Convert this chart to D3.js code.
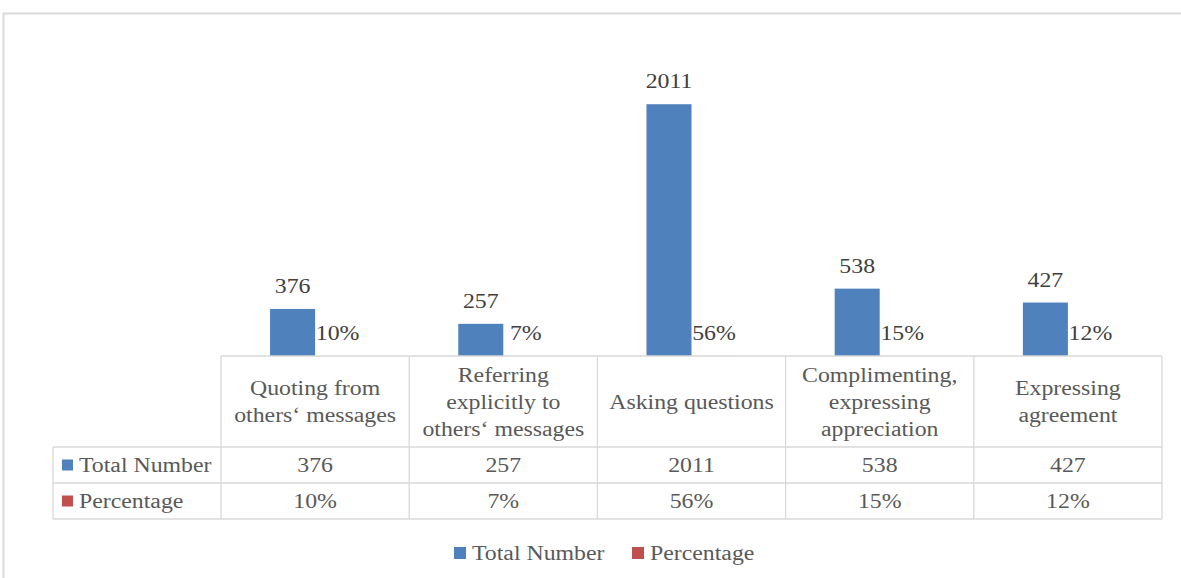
<!DOCTYPE html>
<html>
<head>
<meta charset="utf-8">
<script src="https://cdn.jsdelivr.net/npm/d3@7"></script>
<style>
  body { margin: 0; background: #fff; }
  text { font-family: "Liberation Serif", "Times New Roman", serif; }
</style>
</head>
<body>
<script>
// chart values
var categories = [
    ["Quoting from", "others\u2018 messages"],
    ["Referring", "explicitly  to", "others\u2018 messages"],
    ["Asking questions"],
    ["Complimenting,", "expressing", "appreciation"],
    ["Expressing", "agreement"]
];
var seriesNames = ["Total Number", "Percentage"];
var seriesColors = ["#4f81bd", "#c0504d"];
var totalNumber = [376, 257, 2011, 538, 427];
var percentage = [0.10, 0.07, 0.56, 0.15, 0.12];
var percentLabels = ["10%", "7%", "56%", "15%", "12%"];

var W = 1181, H = 578;
var plot = { left: 221, right: 1162, top: 43, bottom: 356 };
var rowLines = [356, 447, 483, 519];
var tableLeft = 53;
var textColor = "#595959";
var fontSize = 20;
var stretch = 1.19; // the screenshot text is wider than it is tall

var svg = d3.select("body").append("svg")
    .attr("width", W)
    .attr("height", H);

// text helper: places a stretched label at (x, y), vertically centred
function label(px, py, s, anchor, color) {
    return svg.append("text")
        .attr("transform", "translate(" + px + "," + py + ") scale(" + stretch + ",1)")
        .attr("dy", "0.35em")
        .attr("text-anchor", anchor || "start")
        .attr("font-size", fontSize)
        .attr("fill", color || textColor)
        .text(s);
}

// outer chart frame (cut off at right and bottom like the screenshot)
svg.append("rect")
    .attr("x", 3.5).attr("y", 13.5)
    .attr("width", 1250).attr("height", 650)
    .attr("fill", "#fff")
    .attr("stroke", "#d9d9d9")
    .attr("stroke-width", 2);

var x0 = d3.scaleBand()
    .domain(d3.range(categories.length))
    .range([plot.left, plot.right])
    .padding(0);

var x1 = d3.scaleBand()
    .domain(seriesNames)
    .range([0, x0.bandwidth()])
    .paddingInner(0)
    .paddingOuter(1.09);

var y = d3.scaleLinear()
    .domain([0, 2500])
    .range([plot.bottom, plot.top]);

var data = categories.map(function(c, i) {
    return [
        { series: seriesNames[0], value: totalNumber[i], label: String(totalNumber[i]) },
        { series: seriesNames[1], value: percentage[i], label: percentLabels[i] }
    ];
});

data.forEach(function(pair, i) {
    pair.forEach(function(d, j) {
        var bx = x0(i) + x1(d.series);
        svg.append("rect")
            .attr("x", bx)
            .attr("width", x1.bandwidth())
            .attr("y", y(d.value))
            .attr("height", y(0) - y(d.value))
            .attr("fill", seriesColors[j]);
        label(bx + x1.bandwidth() / 2, y(d.value) - 23, d.label, "middle", "#404040");
    });
});

// data table grid
var grid = svg.append("g")
    .attr("stroke", "#d9d9d9")
    .attr("stroke-width", 1.3)
    .attr("fill", "none");

rowLines.forEach(function(ry, k) {
    grid.append("line")
        .attr("x1", k === 0 ? plot.left : tableLeft)
        .attr("x2", plot.right)
        .attr("y1", ry).attr("y2", ry);
});

var colEdges = d3.range(categories.length).map(function(i) { return x0(i); }).concat([plot.right]);
colEdges.forEach(function(cx) {
    grid.append("line")
        .attr("x1", cx).attr("x2", cx)
        .attr("y1", rowLines[0]).attr("y2", rowLines[3]);
});
grid.append("line")
    .attr("x1", tableLeft).attr("x2", tableLeft)
    .attr("y1", rowLines[1]).attr("y2", rowLines[3]);

// category header text
var lineGap = 27;
var headerMid = (rowLines[0] + rowLines[1]) / 2;
categories.forEach(function(lines, i) {
    lines.forEach(function(s, k) {
        label(x0(i) + x0.bandwidth() / 2, headerMid + (k - (lines.length - 1) / 2) * lineGap, s, "middle");
    });
});

// table rows
var rows = [totalNumber.map(String), percentLabels];
rows.forEach(function(vals, r) {
    var cy = (rowLines[r + 1] + rowLines[r + 2]) / 2;
    svg.append("rect")
        .attr("x", 62).attr("y", cy - 5.5)
        .attr("width", 11).attr("height", 11)
        .attr("fill", seriesColors[r]);
    label(79, cy, seriesNames[r]);
    vals.forEach(function(v, i) {
        label(x0(i) + x0.bandwidth() / 2, cy, v, "middle");
    });
});

// legend
var legendX = [454, 632];
var legendY = 553;
seriesNames.forEach(function(name, j) {
    svg.append("rect")
        .attr("x", legendX[j]).attr("y", legendY - 6)
        .attr("width", 12).attr("height", 12)
        .attr("fill", seriesColors[j]);
    label(legendX[j] + 18, legendY, name);
});
</script>
</body>
</html>
